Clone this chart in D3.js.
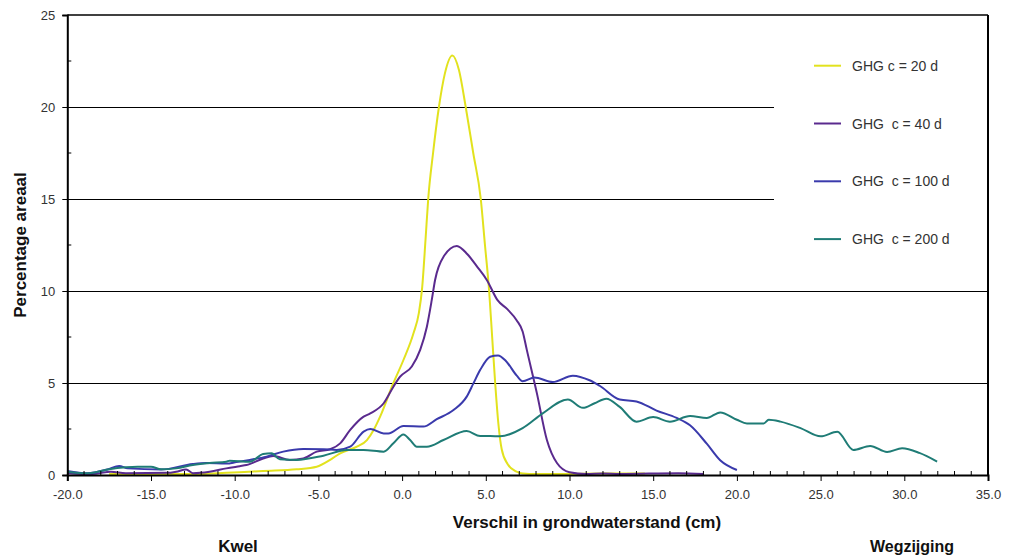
<!DOCTYPE html>
<html>
<head>
<meta charset="utf-8">
<script src="https://cdn.jsdelivr.net/npm/d3@7"></script>
<style>
  html, body { margin: 0; padding: 0; background: #fff; }
  svg { display: block; }
  text { font-family: Arial, "Liberation Sans", sans-serif; }
</style>
</head>
<body>
<svg id="chart" width="1011" height="558"></svg>
<script>
// ---------- data ----------
const xTicks = [-20, -15, -10, -5, 0, 5, 10, 15, 20, 25, 30, 35];
const yTicks = [0, 5, 10, 15, 20, 25];
const seriesNames = ["GHG c = 20 d", "GHG  c = 40 d", "GHG  c = 100 d", "GHG  c = 200 d"];
const seriesColors = ["#e2e21e", "#5a2a8e", "#3a3aac", "#1f7c76"];

const c20 = [[-17.5,0.05],[-14,0.05],[-12,0.06],[-11,0.1],[-9.7,0.15],[-8.3,0.22],[-6.3,0.31],[-5.1,0.45],[-4.3,0.82],[-3.7,1.18],[-2.7,1.54],[-2.1,1.9],[-1.7,2.45],[-1.3,3.2],[-0.52,5.0],[0.08,6.25],[0.68,7.7],[1.0,8.8],[1.2,10.2],[1.4,12.8],[1.56,15],[1.85,17.5],[2.2,20],[2.55,21.8],[3.0,22.8],[3.4,22.0],[3.8,20],[4.25,17.5],[4.7,15],[4.95,12.5],[5.2,10],[5.38,7.5],[5.56,5.0],[5.75,2.8],[5.95,1.4],[6.3,0.6],[6.8,0.2],[7.2,0.08],[8,0.05],[10,0.06],[12,0.08],[14.5,0.08]];

const c40 = [[-20,0.1],[-18.5,0.05],[-17.4,0.18],[-16.5,0.1],[-14,0.12],[-13.5,0.18],[-12.9,0.3],[-12.5,0.1],[-11.5,0.18],[-10.5,0.36],[-9.7,0.48],[-9.3,0.54],[-8.3,0.9],[-7.7,1.03],[-6.7,0.82],[-5.9,0.9],[-5.1,1.27],[-4.3,1.4],[-3.7,1.72],[-3.1,2.45],[-2.3,3.17],[-1.9,3.35],[-1.1,3.9],[-0.52,4.8],[-0.12,5.34],[0.58,5.9],[1.08,6.8],[1.48,8.06],[1.77,9.5],[1.97,10.6],[2.5,11.9],[3.27,12.45],[3.9,12.0],[4.5,11.3],[5.06,10.6],[5.7,9.5],[6.3,9.0],[6.85,8.4],[7.2,7.8],[7.45,6.8],[8.05,4.45],[8.65,1.9],[9.25,0.65],[10.0,0.15],[11,0.05],[12,0.08],[13,0.05],[16.5,0.1],[18,0.05]];

const c100 = [[-20,0.22],[-18.8,0.09],[-17.6,0.3],[-16.9,0.49],[-16.4,0.36],[-14.4,0.3],[-12.5,0.6],[-11.7,0.65],[-10.5,0.62],[-9.9,0.7],[-9.1,0.82],[-8.1,1.0],[-7.1,1.27],[-5.9,1.41],[-4.7,1.4],[-3.9,1.36],[-3.1,1.54],[-2.3,2.36],[-1.9,2.5],[-1.1,2.26],[-0.82,2.26],[0.08,2.66],[1.27,2.63],[2.07,3.03],[3.07,3.53],[3.86,4.26],[4.26,4.98],[4.66,5.7],[5.26,6.43],[5.73,6.5],[6.2,6.2],[6.85,5.4],[7.2,5.1],[7.9,5.3],[9.0,5.05],[10.2,5.4],[11.2,5.15],[11.8,4.85],[13.0,4.1],[14.0,4.0],[15.2,3.5],[16.4,3.1],[17.2,2.7],[18.2,1.7],[19.0,0.8],[20.0,0.27]];

const c200 = [[-20,0.18],[-18.8,0.09],[-17.6,0.3],[-16.5,0.42],[-15.8,0.45],[-15.0,0.45],[-14.4,0.31],[-13.5,0.36],[-12.5,0.54],[-11.5,0.65],[-10.5,0.72],[-10.3,0.78],[-9.1,0.72],[-8.3,1.14],[-7.8,1.18],[-7.3,0.85],[-6.3,0.82],[-4.7,1.05],[-3.3,1.36],[-2.3,1.36],[-1.1,1.27],[-0.52,1.72],[0.08,2.2],[0.48,1.9],[0.88,1.54],[1.48,1.54],[2.47,1.9],[3.86,2.39],[4.66,2.12],[5.26,2.12],[5.85,2.1],[7.2,2.55],[8.4,3.35],[9.9,4.1],[10.8,3.65],[11.5,3.9],[12.2,4.15],[13.0,3.7],[14.0,2.9],[15.0,3.15],[16.0,2.9],[17.2,3.2],[18.2,3.1],[19.0,3.4],[20,3.0],[20.6,2.8],[21.6,2.8],[21.9,3.0],[22.6,2.9],[23.8,2.55],[25.0,2.1],[26.0,2.35],[26.95,1.36],[27.96,1.58],[28.97,1.25],[29.87,1.45],[30.9,1.2],[31.96,0.73]];

const seriesData = [c20, c40, c100, c200];

// ---------- layout ----------
const svg = d3.select("#chart");
const L = 67.3, R = 988, T = 15, B = 475;
const x = d3.scaleLinear().domain([-20, 35]).range([L, R]);
const y = d3.scaleLinear().domain([0, 25]).range([B, T]);

// gridlines
svg.append("g").selectAll("line")
  .data(yTicks.filter(v => v > 0 && v < 25))
  .join("line")
  .attr("x1", L).attr("x2", R)
  .attr("y1", d => Math.round(y(d)) + 0.5).attr("y2", d => Math.round(y(d)) + 0.5)
  .attr("stroke", "#000").attr("stroke-width", 1);

// legend background covering the gridlines
svg.append("rect").attr("x", 774).attr("y", T + 1).attr("width", R - 775).attr("height", 290 - T)
  .attr("fill", "#fff");

// frame top/right
svg.append("line").attr("x1", L).attr("x2", R).attr("y1", T).attr("y2", T).attr("stroke", "#000").attr("stroke-width", 1.5);
svg.append("line").attr("x1", R).attr("x2", R).attr("y1", T).attr("y2", B).attr("stroke", "#000").attr("stroke-width", 2);

// series lines
const line = d3.line().x(d => x(d[0])).y(d => y(d[1])).curve(d3.curveMonotoneX);
svg.append("g").selectAll("path")
  .data(seriesData)
  .join("path")
  .attr("d", d => line(d))
  .attr("fill", "none")
  .attr("stroke", (d, i) => seriesColors[i])
  .attr("stroke-width", 2)
  .attr("stroke-linejoin", "round");

// axes
const xAxis = d3.axisBottom(x).tickValues(xTicks).tickSize(6).tickPadding(9);
const gx = svg.append("g").attr("transform", `translate(0,${B})`).call(xAxis);
gx.select(".domain").attr("stroke", "#000").attr("stroke-width", 2);
gx.selectAll(".tick line").attr("stroke", "#000");
gx.selectAll(".tick text").attr("font-size", 13).attr("fill", "#333")
  .attr("font-family", "Arial, 'Liberation Sans', sans-serif")
  .text(d => (d < 0 ? "-" : "") + d3.format(".1f")(Math.abs(d)));

// x minor ticks (inside)
svg.append("g").selectAll("line")
  .data(d3.range(-20, 36, 1).filter(v => v % 5 !== 0))
  .join("line")
  .attr("x1", d => x(d)).attr("x2", d => x(d))
  .attr("y1", B).attr("y2", B - 4)
  .attr("stroke", "#000");

const yAxis = d3.axisLeft(y).tickValues(yTicks).tickSize(5).tickPadding(7);
const gy = svg.append("g").attr("transform", `translate(${L},0)`).call(yAxis);
gy.select(".domain").attr("stroke", "#000").attr("stroke-width", 2);
gy.selectAll(".tick line").attr("stroke", "#000");
gy.selectAll(".tick text").attr("font-size", 13).attr("fill", "#333")
  .attr("font-family", "Arial, 'Liberation Sans', sans-serif");

// y minor ticks (inside)
svg.append("g").selectAll("line")
  .data([2.5, 7.5, 12.5, 17.5, 22.5])
  .join("line")
  .attr("x1", L).attr("x2", L + 4)
  .attr("y1", d => y(d)).attr("y2", d => y(d))
  .attr("stroke", "#000");

// legend
const lg = svg.append("g").selectAll("g").data(seriesNames).join("g")
  .attr("transform", (d, i) => `translate(0,${65.7 + i * 57.8})`);
lg.append("line").attr("x1", 814).attr("x2", 841).attr("y1", 0).attr("y2", 0)
  .attr("stroke", (d, i) => seriesColors[i]).attr("stroke-width", 2);
lg.append("text").attr("x", 852).attr("y", 5).attr("font-size", 14).attr("fill", "#333")
  .attr("xml:space", "preserve").style("white-space", "pre").text(d => d);

// titles
svg.append("text").attr("x", 587).attr("y", 528).attr("text-anchor", "middle")
  .attr("font-size", 17).attr("font-weight", "bold").attr("fill", "#111")
  .text("Verschil in grondwaterstand (cm)");
svg.append("text").attr("x", 238).attr("y", 552).attr("text-anchor", "middle")
  .attr("font-size", 17).attr("font-weight", "bold").attr("fill", "#111").text("Kwel");
svg.append("text").attr("x", 912).attr("y", 552).attr("text-anchor", "middle")
  .attr("font-size", 16).attr("font-weight", "bold").attr("fill", "#111").text("Wegzijging");
svg.append("text").attr("transform", "translate(26,245) rotate(-90)").attr("text-anchor", "middle")
  .attr("font-size", 17).attr("font-weight", "bold").attr("fill", "#111").text("Percentage areaal");
</script>
</body>
</html>
